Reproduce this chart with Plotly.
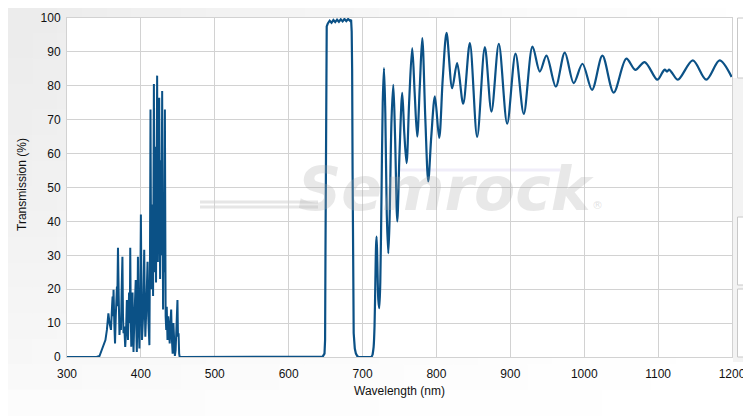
import plotly.graph_objects as go

# ---------------- data ----------------
# UV / blue spiky region (nm, %T)
wl_uv = [300, 340, 344, 347, 350, 352, 354, 356, 357.5, 359.5, 361, 361.7, 362.3, 363, 364, 365, 366, 367.6, 368, 369,
         370, 371, 372, 373, 374, 375, 375.8, 376.5, 377.5, 378.8, 380, 381, 382.5, 383.3, 384, 385, 385.6, 386.3, 387,
         388, 388.7, 389.4, 390, 391, 392, 393, 393.8, 394.5, 395.3, 396, 397, 398, 399, 400, 400.8, 401.5, 403, 404.5,
         405.3, 406, 407, 408, 409, 410, 411.5, 412.3, 413, 414, 414.8, 415.5, 416.5, 417.6, 418.5, 419.5, 420.5, 421,
         422, 423, 424, 424.8, 426, 427, 427.8, 428.8, 430, 431, 431.7, 432.5, 433.5, 434.3, 435, 436, 437, 438, 439,
         440, 441, 442, 443, 444, 445, 446, 447, 448, 449.5, 450.2, 451, 451.8, 452.5]
t_uv = [0, 0, 0.3, 2, 3.5, 5, 8, 12.9, 10, 8, 15, 17.8, 12, 19.8, 10, 4, 12, 20.8, 15, 32.2,
        18, 6.5, 10, 8, 20, 29.6, 12, 7, 9, 3, 8, 16.8, 5, 12, 19, 10, 32.2, 12, 3,
        10, 19, 8, 1.5, 10, 16, 22.7, 8, 1.5, 12, 29.6, 10, 2.5, 15, 42, 18, 5, 12, 31.6,
        15, 6, 12, 18, 28.1, 12, 3.5, 30, 73, 20, 35, 45, 18, 80.5, 25, 62, 22, 40,
        83, 28, 66, 76.5, 23, 58, 30, 78.5, 14, 45, 25, 73, 12, 8, 14.8, 5, 12, 9, 4,
        10, 14, 5, 1, 10, 3, 0.3, 2, 8, 16.8, 6, 7, 1, 0]

# red pass band (nm, %T)
wl_pass = [452.5, 640, 646, 648.5, 649.3, 649.8, 650.3, 650.8, 651.5, 653, 655.5, 658, 660.5, 663, 665.5, 668,
           670.5, 673, 675.5, 678, 680.5, 683, 684.5, 685.3, 685.9, 686.5, 687.2, 688, 689.5, 691, 693, 695,
           712, 713.5]
t_pass = [0, 0, 0.1, 1, 5, 30, 70, 92, 97.5, 98.4, 99.2, 98.6, 99.4, 98.8, 99.5, 98.9,
          99.6, 99.0, 99.7, 99.1, 99.7, 99.2, 99.5, 96, 85, 55, 20, 7, 2.5, 1, 0.2, 0,
          0, 0.6]

# near-infrared ripple region (nm, %T)
wl_nir = [713.5, 715, 716.2, 717.3, 718.3, 719, 720, 721.3, 722.6, 724, 725.5, 727.3, 729, 730.8, 732.8, 734.8,
          736.5, 739.2, 741.6, 744, 747, 750, 753.7, 756.5, 759.6, 763, 767.2, 770.5, 774, 777.5, 780.8, 785,
          788.9, 793, 797.9, 803.7, 808.5, 813.7, 821.3, 828, 836.2, 845.2, 855.1, 865.5, 874.5, 884.4, 895.7,
          907, 918.2, 930, 939.9, 948.9, 961.5, 973.7, 985.8, 997.6, 1010.6, 1024.6, 1039.9, 1057, 1069.2,
          1081.8, 1098.9, 1106, 1109, 1112, 1115, 1119, 1126.8, 1147, 1165.2, 1183.2, 1199.5]
t_nir = [0.6, 3, 9, 22, 33, 35.5, 28, 17, 14.4, 22, 45, 75, 85.2, 72, 42, 30.6,
         40, 70, 80.3, 65, 40, 60, 77.9, 66, 57.2, 75, 91.1, 78, 65, 80, 94.1, 70,
         51.8, 65, 76.9, 64.6, 82, 95.6, 79.3, 86.7, 74.7, 92.6, 64.9, 91.4, 72.4, 92.4, 68.8,
         89.5, 71.7, 91.6, 84.2, 88.9, 79.8, 89.8, 80.8, 86.5, 78.8, 88.9, 78, 88, 84.7,
         87, 81.8, 84, 84.8, 84.2, 84.8, 83.8, 81.8, 87.5, 81.8, 87.5, 82.6]

x_ticks = [300, 400, 500, 600, 700, 800, 900, 1000, 1100, 1200]
y_ticks = [0, 10, 20, 30, 40, 50, 60, 70, 80, 90, 100]

LINE = "#0b5186"
OFF = 8                     # page body margin of the browser
W, H = 751 - OFF, 416 - OFF
L, R, T, B = 59, 19, 10, 59
PW, PH = W - L - R, H - T - B

fig = go.Figure()
fig.add_trace(go.Scatter(x=wl_uv, y=t_uv, mode="lines", line=dict(color=LINE, width=2), hoverinfo="skip"))
fig.add_trace(go.Scatter(x=wl_pass, y=t_pass, mode="lines", line=dict(color=LINE, width=2.2), hoverinfo="skip"))
fig.add_trace(go.Scatter(x=wl_nir, y=t_nir, mode="lines",
                         line=dict(color=LINE, width=2.2, shape="spline", smoothing=0.9), hoverinfo="skip"))


def px2paper_x(px):          # page pixel -> paper fraction
    return (px - OFF - L) / PW


def py2paper_y(py):
    return 1 - (py - OFF - T) / PH


shapes = []
# soft gradient page background (top-left grey fading to white)
nx, ny = 30, 16
for i in range(nx):
    for j in range(ny):
        cx = (i + 0.5) / nx
        cy = (j + 0.5) / ny
        g = int(round(255 - 20 * ((1 - cx) ** 1.2) * ((1 - cy) ** 0.5)))
        shapes.append(dict(type="rect", xref="paper", yref="paper", layer="below",
                           x0=px2paper_x(OFF + i * W / nx) - 0.001, x1=px2paper_x(OFF + (i + 1) * W / nx) + 0.001,
                           y0=py2paper_y(OFF + (j + 1) * H / ny) - 0.002, y1=py2paper_y(OFF + j * H / ny) + 0.002,
                           fillcolor=f"rgb({g},{g},{g})", line=dict(width=0)))
# white plot area
shapes.append(dict(type="rect", xref="paper", yref="paper", layer="below", x0=0, x1=1, y0=0, y1=1,
                   fillcolor="white", line=dict(width=0)))

# right-hand side panels (cut-off UI elements)
shapes.append(dict(type="rect", xref="paper", yref="paper", layer="below",
                   x0=px2paper_x(733), x1=px2paper_x(760), y0=py2paper_y(362), y1=py2paper_y(78),
                   fillcolor="#f3f3f3", line=dict(width=0)))
for (a, b) in [(18, 78), (217, 285), (289, 357)]:
    shapes.append(dict(type="rect", xref="paper", yref="paper", layer="below",
                       x0=px2paper_x(737.5), x1=px2paper_x(760), y0=py2paper_y(b), y1=py2paper_y(a),
                       fillcolor="white", line=dict(color="#c8c8c8", width=1)))

# watermark swoosh lines
for py in (202, 207):
    shapes.append(dict(type="line", xref="paper", yref="paper", layer="below",
                       x0=px2paper_x(200), x1=px2paper_x(318), y0=py2paper_y(py), y1=py2paper_y(py),
                       line=dict(color="#e6e6e6", width=3)))
shapes.append(dict(type="line", xref="paper", yref="paper", layer="below",
                   x0=px2paper_x(400), x1=px2paper_x(560), y0=py2paper_y(170), y1=py2paper_y(170),
                   line=dict(color="rgba(230,225,245,0.6)", width=3)))

annotations = [
    dict(text="Semrock", x=px2paper_x(446), y=py2paper_y(189), xref="paper", yref="paper",
         showarrow=False, xanchor="center", yanchor="middle",
         font=dict(family="DejaVu Sans", size=60, color="rgba(170,170,170,0.27)", weight="bold", style="italic")),
    dict(text="®", x=px2paper_x(597), y=py2paper_y(205), xref="paper", yref="paper",
         showarrow=False, xanchor="center", yanchor="middle",
         font=dict(family="DejaVu Sans", size=11, color="rgba(170,170,170,0.35)")),
    dict(text="Wavelength (nm)", x=0.5, y=py2paper_y(391), xref="paper", yref="paper",
         showarrow=False, xanchor="center", yanchor="middle",
         font=dict(family="Liberation Sans, Arial, sans-serif", size=12, color="#111")),
    dict(text="Transmission (%)", x=px2paper_x(22), y=py2paper_y(185), xref="paper", yref="paper",
         showarrow=False, xanchor="center", yanchor="middle", textangle=-90,
         font=dict(family="Liberation Sans, Arial, sans-serif", size=12, color="#111")),
]

fig.update_layout(
    width=W, height=H,
    margin=dict(l=L, r=R, t=T, b=B, pad=0),
    paper_bgcolor="white", plot_bgcolor="white",
    showlegend=False,
    font=dict(family="Liberation Sans, Arial, sans-serif", size=12, color="#111"),
    shapes=shapes, annotations=annotations,
    xaxis=dict(range=[300, 1200], tickvals=x_ticks, ticktext=[str(v) for v in x_ticks],
               showgrid=True, gridcolor="#d2d2d2", gridwidth=1, zeroline=False, automargin=False,
               showline=True, linecolor="#d2d2d2", linewidth=1, mirror=True, ticks="",
               ticklabelstandoff=6),
    yaxis=dict(range=[0, 100], tickvals=y_ticks, ticktext=[str(v) for v in y_ticks],
               showgrid=True, gridcolor="#d2d2d2", gridwidth=1, zeroline=False, automargin=False,
               showline=True, linecolor="#d2d2d2", linewidth=1, mirror=True, ticks="",
               ticklabelstandoff=3),
)

fig.write_html("out.html")
